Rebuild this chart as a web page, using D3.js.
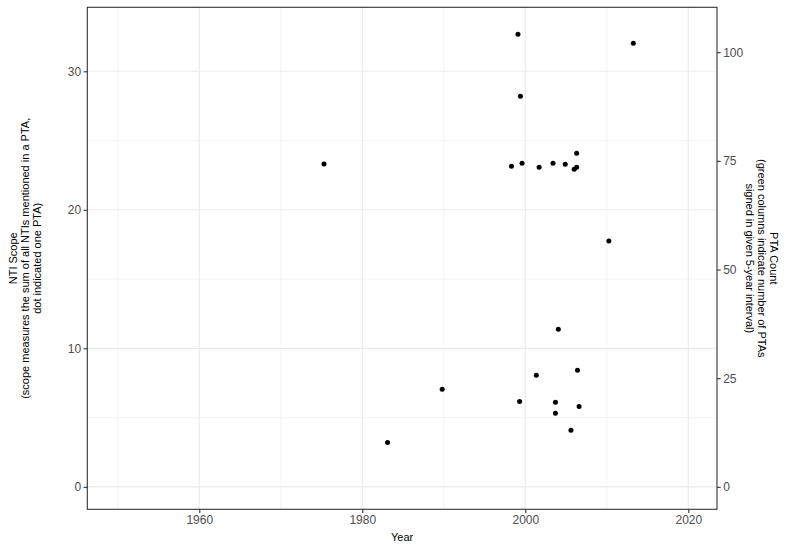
<!DOCTYPE html>
<html>
<head>
<meta charset="utf-8">
<script src="https://cdn.jsdelivr.net/npm/d3@7"></script>
<style>
  html, body { margin: 0; padding: 0; background: #fff; }
  text { font-family: "Liberation Sans", Arial, sans-serif; }
</style>
</head>
<body>
<svg id="chart" width="787" height="550"></svg>
<script>
// ---- data ----
const years = [1975.3, 1983.1, 1989.8, 1998.3, 1999.1, 1999.3, 1999.4, 1999.6, 2001.35, 2001.7,
               2003.4, 2003.7, 2003.7, 2004.05, 2004.9, 2005.6, 2006.0, 2006.3, 2006.3, 2006.4,
               2006.6, 2010.25, 2013.25];
const scope = [23.3, 3.21, 7.04, 23.14, 32.67, 6.17, 28.2, 23.36, 8.05, 23.07,
               23.36, 6.10, 5.31, 11.37, 23.29, 4.08, 22.92, 23.07, 24.08, 8.41,
               5.81, 17.75, 32.02];
const xTicks = [1960, 1980, 2000, 2020];
const xMinor = [1950, 1970, 1990, 2010];
const yTicks = [0, 10, 20, 30];
const yMinor = [5, 15, 25];
const y2Ticks = [0, 25, 50, 75, 100];
const secFactor = 3.187; // PTA count per unit of NTI scope (secondary axis)

const xTitle = "Year";
const yTitleLines = ["NTI Scope", "(scope measures the sum of all NTIs mentioned in a PTA,", "dot indicated one PTA)"];
const y2TitleLines = ["PTA Count", "(green columns indicate number of PTAs", "signed in given 5-year interval)"];

// ---- layout ----
const svg = d3.select("#chart");
const L = 87.3, R = 717, T = 7.3, B = 509.3;

const x = d3.scaleLinear().domain([1946.26, 2023.52]).range([L, R]);
const y = d3.scaleLinear().domain([-1.62, 34.62]).range([B, T]);
const y2 = d3.scaleLinear().domain([-1.62 * secFactor, 34.62 * secFactor]).range([B, T]);

const grid = svg.append("g");
// minor grid
grid.selectAll(".xm").data(xMinor).join("line")
  .attr("x1", d => x(d)).attr("x2", d => x(d)).attr("y1", T).attr("y2", B)
  .attr("stroke", "#EBEBEB").attr("stroke-width", 0.6);
grid.selectAll(".ym").data(yMinor).join("line")
  .attr("y1", d => y(d)).attr("y2", d => y(d)).attr("x1", L).attr("x2", R)
  .attr("stroke", "#EBEBEB").attr("stroke-width", 0.6);
// major grid
grid.selectAll(".xM").data(xTicks).join("line")
  .attr("x1", d => x(d)).attr("x2", d => x(d)).attr("y1", T).attr("y2", B)
  .attr("stroke", "#EBEBEB").attr("stroke-width", 1.1);
grid.selectAll(".yM").data(yTicks).join("line")
  .attr("y1", d => y(d)).attr("y2", d => y(d)).attr("x1", L).attr("x2", R)
  .attr("stroke", "#EBEBEB").attr("stroke-width", 1.1);

// points
svg.append("g").selectAll("circle").data(years.map((d, i) => [d, scope[i]])).join("circle")
  .attr("cx", d => x(d[0])).attr("cy", d => y(d[1])).attr("r", 2.5).attr("fill", "#000");

// panel border
svg.append("rect").attr("x", L).attr("y", T).attr("width", R - L).attr("height", B - T)
  .attr("fill", "none").attr("stroke", "#333333").attr("stroke-width", 1.1);

// axes
function styleAxis(g) {
  g.select(".domain").remove();
  g.selectAll(".tick line").attr("stroke", "#333333").attr("stroke-width", 1.1);
  g.selectAll(".tick text").attr("fill", "#4D4D4D").style("font-size", "12px")
    .style("font-family", "'Liberation Sans', Arial, sans-serif");
}
svg.append("g").attr("transform", `translate(0,${B})`)
  .call(d3.axisBottom(x).tickValues(xTicks).tickFormat(d3.format("d")).tickSize(3.7).tickPadding(2.5))
  .call(styleAxis);
svg.append("g").attr("transform", `translate(${L},0)`)
  .call(d3.axisLeft(y).tickValues(yTicks).tickFormat(d3.format("d")).tickSize(3.7).tickPadding(2.5))
  .call(styleAxis);
svg.append("g").attr("transform", `translate(${R},0)`)
  .call(d3.axisRight(y2).tickValues(y2Ticks).tickFormat(d3.format("d")).tickSize(3.7).tickPadding(2.5))
  .call(styleAxis);

// titles
svg.append("text").attr("x", (L + R) / 2).attr("y", 541).attr("text-anchor", "middle")
  .style("font-size", "11px").attr("fill", "#000").text(xTitle);

const cy = (T + B) / 2;
const lt = svg.append("text").attr("transform", `translate(17,${cy}) rotate(-90)`)
  .attr("text-anchor", "middle").style("font-size", "11px").attr("fill", "#000");
yTitleLines.forEach((s, i) => lt.append("tspan").attr("x", 0).attr("y", i * 12).text(s));

const rt = svg.append("text").attr("transform", `translate(770,${cy}) rotate(90)`)
  .attr("text-anchor", "middle").style("font-size", "11px").attr("fill", "#000");
y2TitleLines.forEach((s, i) => rt.append("tspan").attr("x", 0).attr("y", i * 12).text(s));
</script>
</body>
</html>
